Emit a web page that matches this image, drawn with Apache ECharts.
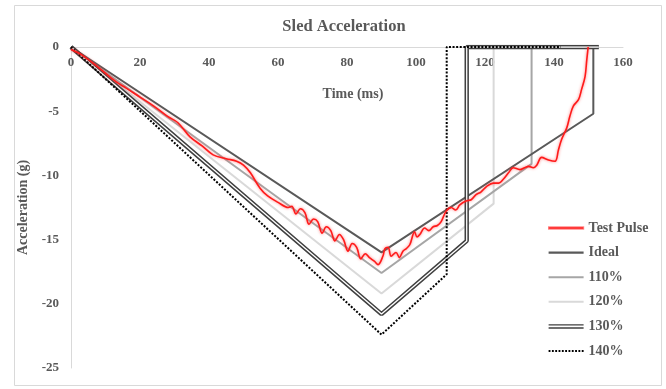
<!DOCTYPE html>
<html>
<head>
<meta charset="utf-8">
<title>Sled Acceleration</title>
<script src="https://cdn.jsdelivr.net/npm/echarts@6/dist/echarts.min.js"></script>
<style>
  html, body { margin: 0; padding: 0; background: #ffffff; }
  #chart { width: 666px; height: 389px; }
</style>
</head>
<body>
<div id="chart"></div>
<script>
// Sled acceleration pulses: measured test pulse against the ideal pulse and scaled variants.
const chartTitle = 'Sled Acceleration';
const xAxisTitle = 'Time (ms)';
const yAxisTitle = 'Acceleration (g)';
const seriesNames = ['Test Pulse', 'Ideal', '110%', '120%', '130%', '140%'];

// Axis ranges (ms and g)
const timeMin = 0, timeMax = 160, timeStep = 20;
const accelMin = -25, accelMax = 0, accelStep = 5;

// Measured test pulse
const testPulseTime = [
  0, 3, 8, 13, 16, 20, 24, 28, 31, 34.5, 38, 41.2, 45, 48, 50, 52, 54.8, 57, 60, 63,
  64.0, 65.2, 66.5, 67.8, 69.0, 70.3, 71.5, 72.8, 74.0, 75.3, 76.5, 77.8, 79.0, 80.3,
  81.5, 82.8, 84.0, 85.3, 86.5, 88.0, 89.0, 90.4, 91.0, 91.9, 92.8, 94.2, 95.2, 96.2,
  97.2, 98.2, 99.6, 100.3, 101.1, 102.5, 103.7, 105.0, 106.2, 107.3, 108.7, 110.2,
  111.5, 112.7, 114.5, 116.0, 117.4, 118.8, 120.5, 122.4, 124.0, 125.3, 126.8, 128.2,
  130.1, 131.5, 132.6, 134.0, 135.0, 136.4, 138.4, 140.3, 141.3, 142.2, 143.7, 144.6,
  145.6, 147.1, 148.0, 149.0, 149.5, 149.9
];
const testPulseAccel = [
  -0.2, -0.6, -1.6, -2.7, -3.2, -3.9, -4.6, -5.4, -5.9, -7.0, -7.7, -8.4, -8.7, -8.9, -9.2, -9.8, -11.0, -11.6, -12.1, -12.5,
  -12.4, -13.0, -12.6, -12.9, -13.8, -13.4, -13.6, -14.5, -14.0, -14.3, -15.1, -14.6, -15.0, -15.9,
  -15.3, -15.6, -16.5, -16.1, -16.4, -16.7, -16.95, -16.3, -15.7, -15.6, -16.3, -16.0, -16.4, -15.9,
  -15.7, -15.4, -14.4, -14.8, -14.6, -14.1, -14.3, -14.0, -13.9, -13.6, -12.8, -12.5,
  -12.7, -12.3, -12.0, -11.9, -11.5, -11.3, -10.85, -10.6, -10.6, -10.3, -9.8, -9.4,
  -9.55, -9.4, -9.3, -9.4, -9.2, -8.6, -8.8, -8.9, -8.0, -7.2, -6.3, -5.4,
  -4.6, -4.1, -3.3, -2.3, -1.0, 0
];

// Ideal pulse and its scaled variants
const idealTime = [0, 90, 151.4, 151.4, 153];
const idealAccel = [0, -16, -5.2, 0, 0];
const p110Time = [0, 90, 133.5, 133.5, 153];
const p110Accel = [0, -17.6, -9.1, 0, 0];
const p120Time = [0, 90, 122.5, 122.5, 153];
const p120Accel = [0, -19.2, -12.2, 0, 0];
const p130Time = [0, 90, 114.7, 114.7, 153];
const p130Accel = [0, -20.8, -15.1, 0, 0];
const p140Time = [0, 90, 108.9, 108.9, 142];
const p140Accel = [0, -22.4, -17.7, 0, 0];

const pairs = (xs, ys) => xs.map((x, i) => [x, ys[i]]);

const FONT = '"Liberation Serif", "Times New Roman", serif';
const TEXT = '#595959';
const AXIS = '#d9d9d9';

// Plot area
const GRID = { left: 71, top: 47, right: 43, bottom: 21 };
const plotHeight = 389 - GRID.top - GRID.bottom;

// Legend swatches drawn as filled paths so each looks like its line
const barIcon = 'path://M0,0H36V2.2H0Z';
const doubleIcon = 'path://M0,0H36V4.6H0Z M0,1.5V3.1H36V1.5Z';
let dotIcon = 'path://';
for (let x = 0; x <= 34; x += 3.4) {
  dotIcon += 'M' + x.toFixed(1) + ',0h1.9v1.9h-1.9Z';
}

function lineSeries(name, xs, ys, lineStyle, z, extra) {
  return Object.assign({
    name: name,
    type: 'line',
    data: pairs(xs, ys),
    symbol: 'none',
    showSymbol: false,
    silent: true,
    z: z,
    lineStyle: lineStyle,
    itemStyle: { color: lineStyle.color }
  }, extra || {});
}

const chart = echarts.init(document.getElementById('chart'), null, { renderer: 'canvas' });

chart.setOption({
  animation: false,
  backgroundColor: '#ffffff',
  graphic: [{
    type: 'rect',
    shape: { x: 14.5, y: 5.5, width: 647, height: 380 },
    style: { fill: 'none', stroke: AXIS, lineWidth: 1 },
    silent: true,
    z: -10
  }],
  title: {
    text: chartTitle,
    left: 339,
    top: 13,
    textAlign: 'center',
    textStyle: { fontFamily: FONT, fontWeight: 'bold', fontSize: 16.5, color: TEXT }
  },
  grid: Object.assign({ containLabel: false }, GRID),
  legend: {
    orient: 'vertical',
    left: 543,
    top: 216,
    itemWidth: 35,
    itemHeight: 14,
    itemGap: 10.6,
    selectedMode: false,
    textStyle: { fontFamily: FONT, fontWeight: 'bold', fontSize: 14, color: TEXT },
    data: [
      { name: 'Test Pulse', icon: barIcon, itemStyle: { color: '#ff1a1a', borderColor: 'rgba(255,110,110,0.8)', borderWidth: 1.2 } },
      { name: 'Ideal', icon: barIcon, itemStyle: { color: '#595959', borderWidth: 0 } },
      { name: '110%', icon: barIcon, itemStyle: { color: '#a6a6a6', borderWidth: 0 } },
      { name: '120%', icon: barIcon, itemStyle: { color: '#d9d9d9', borderWidth: 0 } },
      { name: '130%', icon: doubleIcon, itemStyle: { color: '#404040', borderWidth: 0 } },
      { name: '140%', icon: dotIcon, itemStyle: { color: '#000000', borderWidth: 0 } }
    ]
  },
  xAxis: {
    type: 'value',
    position: 'bottom',
    // the time axis crosses at 0 g, which is the top edge of the plot
    offset: -plotHeight,
    min: timeMin,
    max: timeMax,
    interval: timeStep,
    name: xAxisTitle,
    nameLocation: 'middle',
    nameGap: 40,
    nameTextStyle: { fontFamily: FONT, fontWeight: 'bold', fontSize: 14, color: TEXT, padding: [0, 0, 0, 12] },
    axisLine: { show: true, onZero: false, lineStyle: { color: AXIS, width: 1 } },
    axisTick: { show: false },
    splitLine: { show: false },
    axisLabel: { fontFamily: FONT, fontWeight: 'bold', fontSize: 13, color: TEXT, margin: 9 }
  },
  yAxis: {
    type: 'value',
    min: accelMin,
    max: accelMax,
    interval: accelStep,
    name: yAxisTitle,
    nameLocation: 'middle',
    nameGap: 34,
    nameRotate: 90,
    nameTextStyle: { fontFamily: FONT, fontWeight: 'bold', fontSize: 14, color: TEXT },
    axisLine: { show: true, onZero: false, lineStyle: { color: AXIS, width: 1 } },
    axisTick: { show: false },
    splitLine: { show: false },
    axisLabel: { fontFamily: FONT, fontWeight: 'bold', fontSize: 13, color: TEXT, margin: 12 }
  },
  series: [
    lineSeries(seriesNames[0], testPulseTime, testPulseAccel,
      { color: '#ff1a1a', width: 1.6, shadowColor: 'rgba(255,70,70,0.75)', shadowBlur: 3 }, 10, { smooth: 0.35 }),
    lineSeries(seriesNames[1], idealTime, idealAccel, { color: '#595959', width: 2 }, 5),
    lineSeries(seriesNames[2], p110Time, p110Accel, { color: '#a6a6a6', width: 2 }, 4),
    lineSeries(seriesNames[3], p120Time, p120Accel, { color: '#d9d9d9', width: 2 }, 3),
    lineSeries(seriesNames[4], p130Time, p130Accel, { color: '#404040', width: 4.4 }, 6),
    lineSeries(seriesNames[4], p130Time, p130Accel, { color: '#ffffff', width: 1.3 }, 7),
    lineSeries(seriesNames[5], p140Time, p140Accel, { color: '#000000', width: 2, type: [2, 1.6] }, 8)
  ]
});
</script>
</body>
</html>
